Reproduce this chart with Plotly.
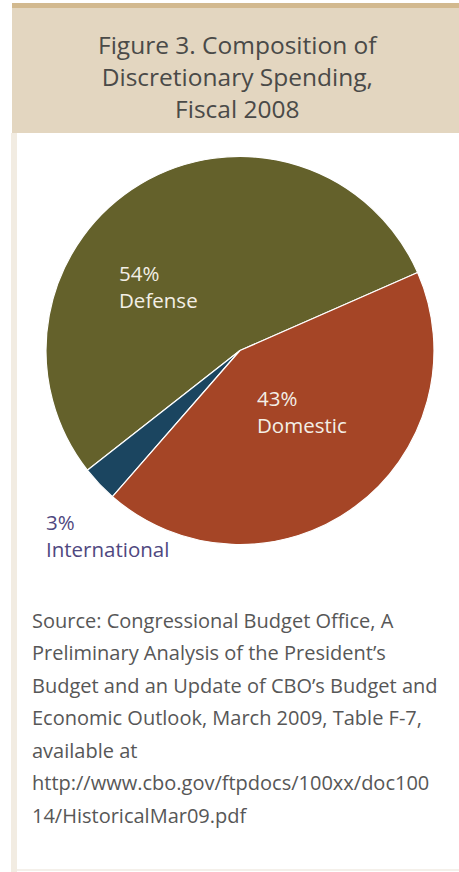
import plotly.graph_objects as go

categories = ["Defense", "International", "Domestic"]
shares = [54, 3, 43]
pct_labels = ["54%", "3%", "43%"]
colors = ["#64612b", "#1b4560", "#a54526"]

title_lines = ["Figure 3. Composition of", "Discretionary Spending,", "Fiscal 2008"]
source_lines = [
    "Source: Congressional Budget Office, A",
    "Preliminary Analysis of the President\u2019s",
    "Budget and an Update of CBO\u2019s Budget and",
    "Economic Outlook, March 2009, Table F-7,",
    "available at",
    "http://www.cbo.gov/ftpdocs/100xx/doc100",
    "14/HistoricalMar09.pdf",
]

W, H = 459, 872
FONT = "Open Sans"

fig = go.Figure(go.Pie(
    labels=categories,
    values=shares,
    sort=False,
    direction="counterclockwise",
    rotation=-128.1,
    marker=dict(colors=colors, line=dict(color="white", width=1.2)),
    textinfo="none",
    hoverinfo="label+percent",
    showlegend=False,
    domain=dict(x=[46 / W, 434 / W], y=[1 - 546 / H, 1 - 155 / H]),
))

def py(y):
    return 1 - y / H

shapes = [
    dict(type="rect", xref="paper", yref="paper", x0=12 / W, x1=1, y0=py(133), y1=py(3),
         fillcolor="#e3d6c0", line=dict(width=0), layer="below"),
    dict(type="rect", xref="paper", yref="paper", x0=12 / W, x1=1, y0=py(8), y1=py(3),
         fillcolor="#d2b98f", line=dict(width=0), layer="below"),
    dict(type="rect", xref="paper", yref="paper", x0=11 / W, x1=17 / W, y0=py(872), y1=py(133),
         fillcolor="#f2ece2", line=dict(width=0), layer="below"),
    dict(type="rect", xref="paper", yref="paper", x0=17 / W, x1=1, y0=py(871), y1=py(869),
         fillcolor="#f4f0ea", line=dict(width=0), layer="below"),
]

annotations = [dict(text="<br>".join(title_lines), x=238 / W, y=py(76), xref="paper", yref="paper",
                    showarrow=False, xanchor="center", yanchor="middle", align="center",
                    font=dict(family=FONT, size=24.5, color="#4a4a48"))]

label_pos = {"Defense": (117, 286, "#f3efe6"),
             "Domestic": (255, 412, "#f3efe6"),
             "International": (44, 535, "#4f4880")}
for cat, pct in zip(categories, pct_labels):
    x, y, c = label_pos[cat]
    annotations.append(dict(text=f"{pct}<br>{cat}", x=x / W, y=py(y), xref="paper", yref="paper",
                            showarrow=False, xanchor="left", yanchor="middle", align="left",
                            font=dict(family=FONT, size=20.5, color=c)))

src_y0, src_dy = 620, 32.5
for i, t in enumerate(source_lines):
    annotations.append(dict(text=t, x=30 / W, y=py(src_y0 + i * src_dy), xref="paper", yref="paper",
                            showarrow=False, xanchor="left", yanchor="middle",
                            font=dict(family=FONT, size=20, color="#575757")))

fig.update_layout(
    width=W, height=H,
    margin=dict(l=0, r=0, t=0, b=0),
    paper_bgcolor="white", plot_bgcolor="white",
    shapes=shapes, annotations=annotations,
)

fig.write_html("out.html")
